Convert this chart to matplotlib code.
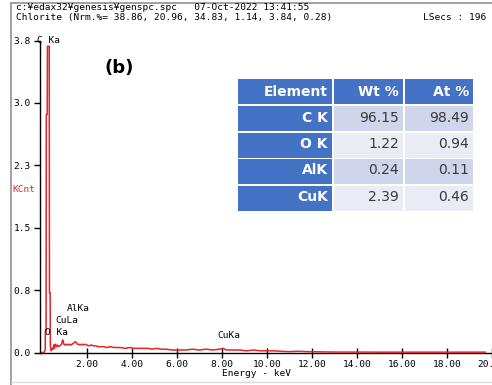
import matplotlib.pyplot as plt
from matplotlib.patches import Rectangle

# EDS spectrum (energy in keV, counts in kcnt)
energy = [0.00, 0.10, 0.13, 0.15, 0.16, 0.19, 0.20, 0.24, 0.25, 0.33,
          0.34, 0.37, 0.38, 0.42, 0.46, 0.50, 0.53, 0.56, 0.60, 0.64,
          0.68, 0.72, 0.76, 0.80, 0.84, 0.88, 0.92, 0.95, 0.98, 1.02,
          1.06, 1.10, 1.15, 1.20, 1.25, 1.30, 1.35, 1.40, 1.45, 1.49,
          1.53, 1.58, 1.63, 1.70, 1.78, 1.85, 1.92, 2.00, 2.10, 2.20,
          2.30, 2.40, 2.50, 2.62, 2.75, 2.90, 3.05, 3.20, 3.35, 3.50,
          3.70, 3.90, 4.10, 4.30, 4.50, 4.70, 4.90, 5.10, 5.30, 5.50,
          5.80, 6.10, 6.40, 6.70, 7.00, 7.30, 7.60, 7.90, 8.05, 8.20,
          8.50, 8.80, 9.10, 9.40, 9.70, 10.00, 10.30, 10.60, 11.00, 11.40,
          11.80, 12.30, 13.00, 14.00, 15.00, 16.00, 17.00, 18.00, 19.00, 19.70]
counts = [0.0, 0.0, 0.02, 0.03, 0.27, 0.27, 2.86, 2.86, 3.68, 3.68,
          0.72, 0.72, 0.08, 0.02, 0.05, 0.04, 0.09, 0.05, 0.10, 0.07,
          0.09, 0.07, 0.08, 0.08, 0.09, 0.10, 0.15, 0.14, 0.10, 0.09,
          0.10, 0.09, 0.10, 0.09, 0.10, 0.09, 0.10, 0.11, 0.12, 0.13,
          0.12, 0.10, 0.10, 0.09, 0.10, 0.09, 0.10, 0.09, 0.08, 0.09,
          0.08, 0.08, 0.07, 0.07, 0.07, 0.06, 0.07, 0.06, 0.06, 0.06,
          0.05, 0.06, 0.05, 0.05, 0.05, 0.05, 0.04, 0.05, 0.04, 0.04,
          0.03, 0.03, 0.03, 0.04, 0.03, 0.04, 0.03, 0.04, 0.05, 0.03,
          0.03, 0.03, 0.02, 0.03, 0.02, 0.02, 0.02, 0.015, 0.01, 0.015,
          0.01, 0.008, 0.005, 0.005, 0.004, 0.004, 0.004, 0.004, 0.004, 0.004]

# peak labels: text, energy, height
peak_names = ["C Ka", "O Ka", "CuLa", "AlKa", "CuKa"]
peak_x = [-0.23, 0.16, 0.60, 1.10, 7.78]
peak_y = [3.75, 0.24, 0.38, 0.53, 0.21]

x_ticks = [2, 4, 6, 8, 10, 12, 14, 16, 18, 20]
x_ticklabels = ["2.00", "4.00", "6.00", "8.00", "10.00", "12.00", "14.00", "16.00", "18.00", "20.00"]
y_ticks = [0.0, 0.75, 1.5, 2.25, 3.0, 3.75]
y_ticklabels = ["0.0", "0.8", "1.5", "2.3", "3.0", "3.8"]

# quantification table
elements = ["C K", "O K", "AlK", "CuK"]
wt_pct = ["96.15", "1.22", "0.24", "2.39"]
at_pct = ["98.49", "0.94", "0.11", "0.46"]
table_header = ["Element", "Wt %", "At %"]

W, H = 492, 385
mono = "DejaVu Sans Mono"
fs = 6.8
red = "#e3242b"

fig = plt.figure(figsize=(W / 100, H / 100), dpi=100)

# spectrum axes
ax = fig.add_axes([40 / W, (H - 352.5) / H, (W - 40) / W, 312 / H])
ax.plot(energy, counts, color=red, lw=1.1, zorder=3)
ax.set_xlim(-0.08, 19.6)
ax.set_ylim(0, 3.75)
ax.spines["top"].set_visible(False)
ax.spines["right"].set_visible(False)
for s in ["left", "bottom"]:
    ax.spines[s].set_color("black")
    ax.spines[s].set_linewidth(1.0)
ax.set_xticks(x_ticks)
ax.set_xticklabels(x_ticklabels, fontsize=fs, family=mono)
ax.set_yticks(y_ticks)
ax.set_yticklabels(y_ticklabels, fontsize=fs, family=mono)
ax.tick_params(axis="x", direction="inout", length=7, width=1, pad=2)
ax.tick_params(axis="y", direction="out", length=4.5, width=1, pad=2)
ax.patch.set_alpha(0)
for name, px, py in zip(peak_names, peak_x, peak_y):
    ax.text(px, py, name, fontsize=fs, family=mono, ha="left", va="center",
            clip_on=False)

# overlay in pixel coordinates for frame and header text
ov = fig.add_axes([0, 0, 1, 1], zorder=-1)
ov.set_xlim(0, W)
ov.set_ylim(H, 0)
ov.axis("off")
ov.plot([11, 11], [3, H], color="#9a9a9a", lw=1.3)
ov.plot([11, W], [3, 3], color="#9a9a9a", lw=1.3)
ov.plot([11, W], [382, 382], color="#dcdcdc", lw=1.0)

ov.text(16, 7, "c:\u00a5edax32\u00a5genesis\u00a5genspc.spc   07-Oct-2022 13:41:55",
        fontsize=fs, family=mono, va="center", ha="left")
ov.text(16, 17.5, "Chlorite (Nrm.%= 38.86, 20.96, 34.83, 1.14, 3.84, 0.28)",
        fontsize=fs, family=mono, va="center", ha="left")
ov.text(486, 17.5, "LSecs : 196", fontsize=fs, family=mono, va="center", ha="right")
ov.text(12, 190, "KCnt", fontsize=fs, family=mono, color=red, va="center", ha="left")
ov.text(256, 374, "Energy - keV", fontsize=fs, family=mono, va="center", ha="center")
ov.text(104, 68, "(b)", fontsize=13, weight="bold", va="center", ha="left")

# table: blue header and element column, banded value cells
blue = "#4472c4"
bands = ["#cfd5ea", "#e9ebf5"]
col_x = [(238, 332), (334, 403), (405, 473)]
header_top, header_h = 79, 25
row_tops = [106, 132.5, 159, 185.5]
row_h = 25
tab = fig.add_axes([0, 0, 1, 1], zorder=5)
tab.set_xlim(0, W)
tab.set_ylim(H, 0)
tab.axis("off")
for (x0, x1), label in zip(col_x, table_header):
    tab.add_patch(Rectangle((x0, header_top), x1 - x0, header_h, color=blue, lw=0))
    tab.text(x1 - 4, header_top + header_h / 2, label, color="white",
             fontsize=10, weight="bold", ha="right", va="center")
for i, top in enumerate(row_tops):
    cells = [elements[i], wt_pct[i], at_pct[i]]
    for j, ((x0, x1), txt) in enumerate(zip(col_x, cells)):
        fc = blue if j == 0 else bands[i % 2]
        tab.add_patch(Rectangle((x0, top), x1 - x0, row_h, color=fc, lw=0))
        tab.text(x1 - 4, top + row_h / 2 - 1, txt,
                 color="white" if j == 0 else "#3a3a3a",
                 fontsize=10, weight="bold" if j == 0 else "normal",
                 ha="right", va="center")

fig.savefig("out.png", dpi=100)
